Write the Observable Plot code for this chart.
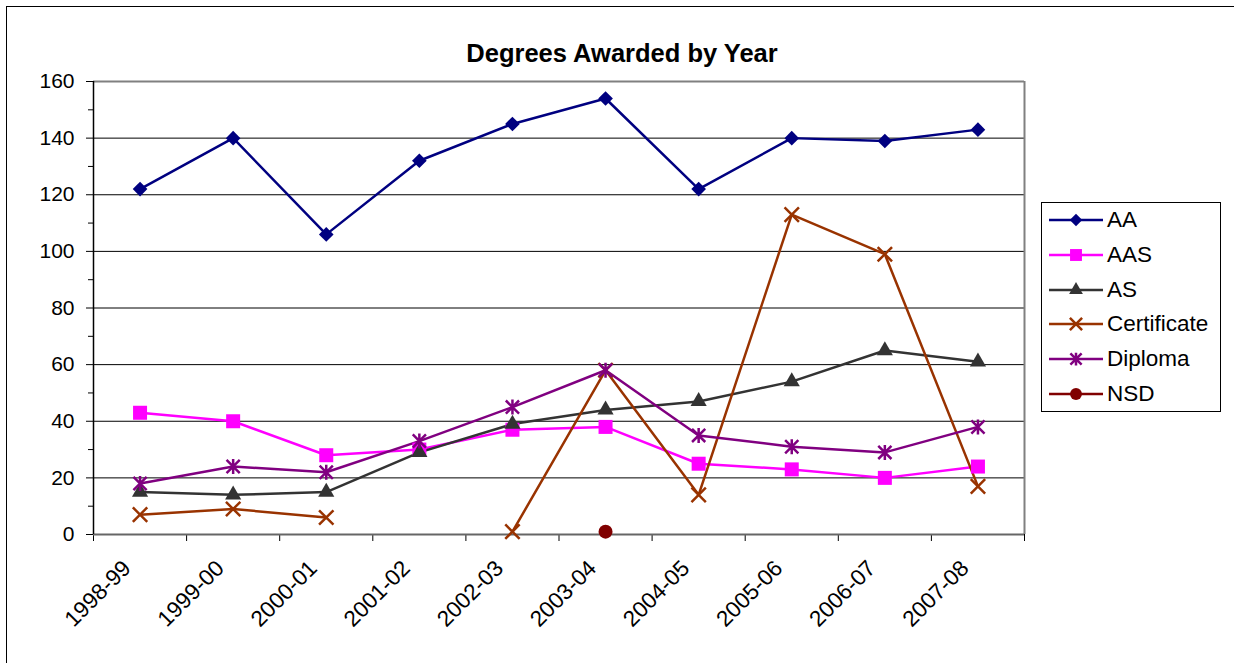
<!DOCTYPE html>
<html><head><meta charset="utf-8">
<script src="https://cdn.jsdelivr.net/npm/d3@7"></script>
<script src="https://cdn.jsdelivr.net/npm/@observablehq/plot@0.6"></script>
<style>
body{margin:0;background:#fff;font-family:"Liberation Sans",Arial,sans-serif;}
#wrap{position:relative;width:1234px;height:663px;overflow:hidden;background:#fff;}
#frame{position:absolute;left:6px;top:6px;width:1260px;height:700px;border-top:1px solid #000;border-left:1px solid #000;}
#title{position:absolute;left:0;width:1244px;top:41px;line-height:25px;text-align:center;font-weight:bold;font-size:25.5px;color:#000;}
#chart{position:absolute;left:0;top:0;}
#legend{position:absolute;left:1041px;top:202px;width:178px;height:208px;border:1px solid #000;background:#fff;}
.row{position:absolute;left:0;height:30px;width:178px;}
.row svg{position:absolute;left:0;top:0;}
.row span{position:absolute;left:65px;top:3px;font-size:22.5px;line-height:24px;color:#000;}
</style>
</head><body>
<div id="wrap"><div id="frame"></div><div id="chart"></div><div id="title">Degrees Awarded by Year</div><div id="legend"></div></div>
<script>
const years = ["1998-99","1999-00","2000-01","2001-02","2002-03","2003-04","2004-05","2005-06","2006-07","2007-08"];
const seriesNames = ["AA","AAS","AS","Certificate","Diploma","NSD"];
const AA = [122,140,106,132,145,154,122,140,139,143];
const AAS = [43,40,28,30,37,38,25,23,20,24];
const AS = [15,14,15,29,39,44,47,54,65,61];
const Certificate = [7,9,6,null,1,58,14,113,99,17];
const Diploma = [18,24,22,33,45,58,35,31,29,38];
const NSD = [null,null,null,null,null,1,null,null,null,null];
const yTicks = [0,20,40,60,80,100,120,140,160];

const asterisk = {draw(ctx, size){const r=Math.sqrt(size/Math.PI);const d=r*0.88;ctx.moveTo(0,-r);ctx.lineTo(0,r);ctx.moveTo(-d,-d);ctx.lineTo(d,d);ctx.moveTo(-d,d);ctx.lineTo(d,-d);}};

const values = {AA, AAS, AS, Certificate, Diploma, NSD};
const style = {
  AA:{color:"#000080", symbol:"diamond2", r:6.6, filled:true},
  AAS:{color:"#FF00FF", symbol:"square", r:7.9, filled:true},
  AS:{color:"#333333", symbol:"triangle", r:6.0, filled:true},
  Certificate:{color:"#993300", symbol:"times", r:6.6, filled:false},
  Diploma:{color:"#800080", symbol:asterisk, r:7.5, filled:false},
  NSD:{color:"#800000", symbol:"circle", r:7, filled:true}
};
const rows = seriesNames.map(s => values[s].map((v,i)=>({series:s, i, v})));

const marks = [
  Plot.gridY({ticks:[20,40,60,80,100,120,140], stroke:"#000", strokeOpacity:1, strokeWidth:1}),
  Plot.ruleY([160], {stroke:"#808080", strokeWidth:2}),
  Plot.ruleX([9.5], {stroke:"#808080", strokeWidth:2}),
  Plot.axisY({ticks:yTicks, tickSize:7, tickPadding:12, fontSize:21, label:null}),
  Plot.axisY({ticks:d3.range(10,160,20), tickSize:5, tickFormat:()=>"", label:null}),
  Plot.axisX({ticks:d3.range(-0.5,10,1), tickSize:7, tickFormat:()=>"", label:null}),
  Plot.axisX({ticks:d3.range(0,10), tickSize:0, tickPadding:30, dx:-13, tickRotate:-45, fontSize:22.5, tickFormat:i=>years[i], label:null}),
  Plot.ruleY([0], {stroke:"#666", strokeWidth:2}),
  Plot.ruleX([-0.5], {stroke:"#000", strokeWidth:1.5}),
];
seriesNames.forEach((s,k)=>{
  const st = style[s];
  marks.push(Plot.line(rows[k], {x:"i", y:"v", stroke:st.color, strokeWidth:2.5}));
});
seriesNames.forEach((s,k)=>{
  const st = style[s];
  const data = rows[k].filter(d=>d.v!=null);
  marks.push(Plot.dot(data, st.filled
    ? {x:"i", y:"v", symbol:()=>st.symbol, r:st.r, fill:st.color, stroke:"none"}
    : {x:"i", y:"v", symbol:()=>st.symbol, r:st.r, fill:"none", stroke:st.color, strokeWidth:2.5}));
});

const chart = Plot.plot({
  width:1234, height:663,
  marginLeft:93, marginRight:210, marginTop:81, marginBottom:129,
  x:{type:"linear", domain:[-0.5,9.5]},
  y:{type:"linear", domain:[0,160]},
  symbol:{type:"identity"},
  style:{fontFamily:"'Liberation Sans', Arial, sans-serif", fontSize:"20px", color:"#000", background:"transparent", overflow:"visible"},
  marks
});
document.getElementById("chart").appendChild(chart);

// legend
const leg = document.getElementById("legend");
seriesNames.forEach((s,k)=>{
  const st = style[s];
  const row = document.createElement("div");
  row.className="row";
  row.style.top = (2 + 34.8*k) + "px";
  const sym = typeof st.symbol === "string" ? ({diamond2:d3.symbolDiamond2,square:d3.symbolSquare,triangle:d3.symbolTriangle,times:d3.symbolTimes,circle:d3.symbolCircle})[st.symbol] : st.symbol;
  const rr = st.r*0.85;
  const path = d3.symbol(sym, rr*rr*Math.PI)();
  row.innerHTML = `<svg width="70" height="30"><line x1="7" x2="61" y1="15" y2="15" stroke="${st.color}" stroke-width="2.5"/><path transform="translate(34,15)" d="${path}" fill="${st.filled?st.color:"none"}" stroke="${st.filled?"none":st.color}" stroke-width="2.5"/></svg><span>${s}</span>`;
  leg.appendChild(row);
});
</script>
</body></html>
